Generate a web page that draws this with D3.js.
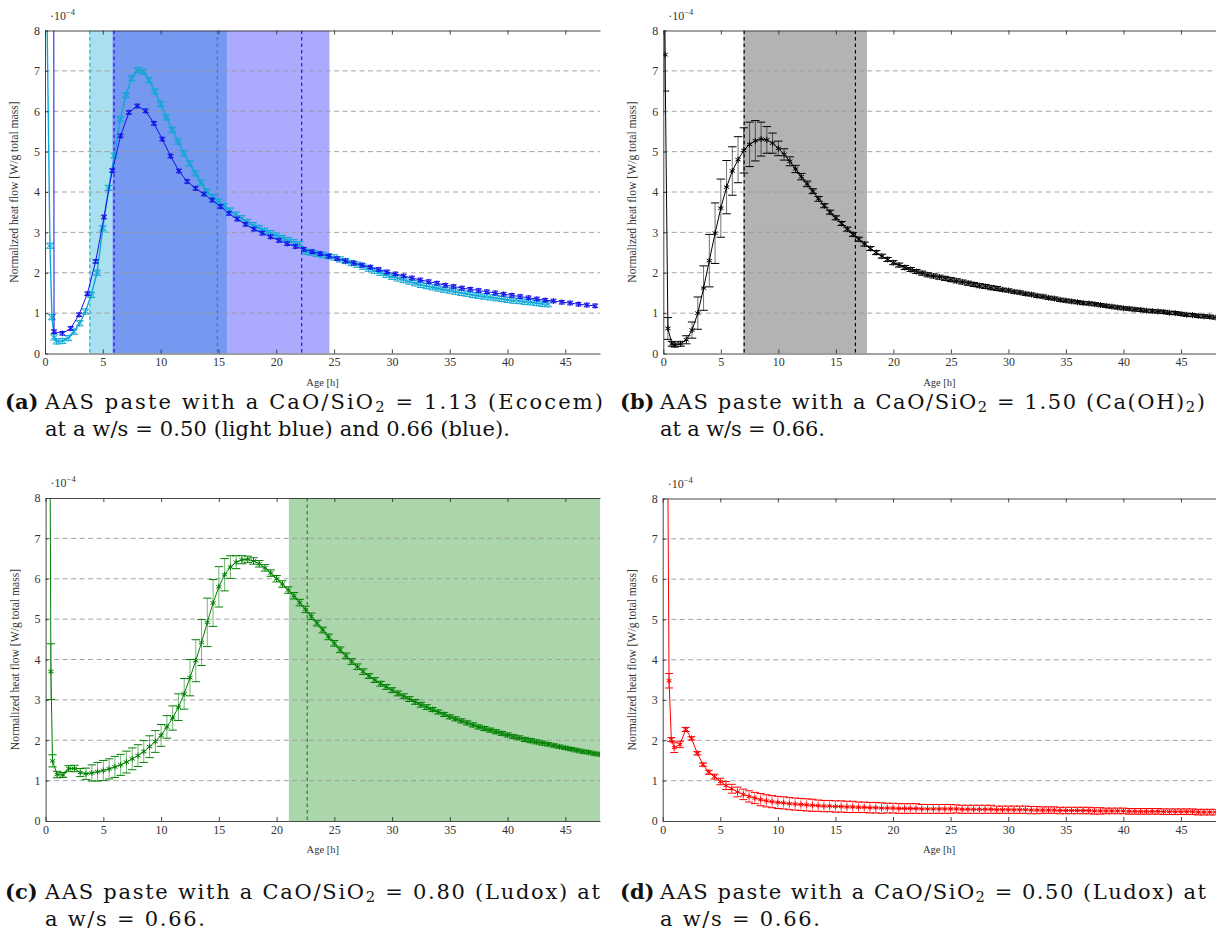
<!DOCTYPE html>
<meta charset="utf-8">
<style>
body { margin: 0; background: #fff; }
svg { display: block; }
text { font-family: "Liberation Serif", "DejaVu Serif", serif; }
text.cap { font-family: "DejaVu Serif", "Liberation Serif", serif; }
</style>
<body>
<svg width="1223" height="939"></svg>

<script src="https://cdn.jsdelivr.net/npm/d3@7/dist/d3.min.js"></script>
<script>

// ---------------- data (heat flow in 1e-4 W/g, age in h) ----------------
var ageStep = 0.5;
var xTicks = [0, 5, 10, 15, 20, 25, 30, 35, 40, 45];
var yTicks = [0, 1, 2, 3, 4, 5, 6, 7, 8];

// (a) Ecocem, w/s = 0.50 (light blue)
var agesA1 = [0.12, 0.43, 0.6, 0.8].concat(d3.range(1, 43.51, ageStep));
var heatA1 = [9.5, 2.67, 0.9, 0.4,
  0.3, 0.31, 0.38, 0.54, 0.75, 1.04, 1.45, 2.0, 3.1, 4.1,
  4.9, 5.8, 6.4, 6.82, 7.02, 6.98, 6.77, 6.49, 6.18, 5.85,
  5.54, 5.25, 4.96, 4.71, 4.46, 4.23, 4.01, 3.88, 3.76, 3.65,
  3.54, 3.44, 3.35, 3.26, 3.18, 3.11, 3.04, 2.98, 2.92, 2.86,
  2.81, 2.76, 2.71, 2.52, 2.5, 2.47, 2.44, 2.41, 2.38, 2.33,
  2.29, 2.24, 2.2, 2.15, 2.1, 2.05, 2.0, 1.95, 1.9, 1.86,
  1.82, 1.78, 1.74, 1.7, 1.67, 1.64, 1.61, 1.58, 1.56, 1.53,
  1.5, 1.48, 1.45, 1.43, 1.41, 1.39, 1.37, 1.35, 1.33, 1.31,
  1.3, 1.28, 1.27, 1.25, 1.23, 1.22];

// (a) Ecocem, w/s = 0.66 (blue)
var agesA2 = [0.76].concat(d3.range(0.78, 47.6, 0.72));
var heatA2 = [9.5,
  0.54, 0.5, 0.62, 0.96, 1.48, 2.28, 3.38, 4.53, 5.39, 5.97,
  6.13, 6.01, 5.7, 5.31, 4.89, 4.52, 4.26, 4.09, 3.95, 3.8,
  3.64, 3.47, 3.33, 3.2, 3.08, 2.98, 2.89, 2.8, 2.72, 2.65,
  2.58, 2.52, 2.47, 2.41, 2.35, 2.29, 2.24, 2.19, 2.14, 2.08,
  2.02, 1.97, 1.92, 1.87, 1.82, 1.78, 1.74, 1.69, 1.66, 1.62,
  1.59, 1.56, 1.53, 1.5, 1.47, 1.44, 1.41, 1.38, 1.35, 1.32,
  1.3, 1.27, 1.25, 1.22, 1.2, 1.18];

// (b) Ca(OH)2, w/s = 0.66
var agesB = [0.05, 0.15, 0.4, 0.75].concat(d3.range(1, 48.01, ageStep));
var heatB = [9.5, 7.4, 0.62, 0.24,
  0.21, 0.24, 0.34, 0.58, 1.0, 1.62, 2.3, 2.98, 3.6, 4.12,
  4.52, 4.8, 5.03, 5.18, 5.27, 5.31, 5.29, 5.21, 5.08, 4.93,
  4.76, 4.57, 4.38, 4.2, 4.02, 3.83, 3.66, 3.5, 3.36, 3.22,
  3.08, 2.95, 2.83, 2.71, 2.6, 2.5, 2.41, 2.33, 2.25, 2.19,
  2.13, 2.08, 2.03, 1.99, 1.95, 1.92, 1.89, 1.86, 1.83, 1.8,
  1.77, 1.74, 1.71, 1.68, 1.66, 1.63, 1.61, 1.58, 1.56, 1.53,
  1.51, 1.48, 1.46, 1.43, 1.41, 1.38, 1.36, 1.33, 1.31, 1.29,
  1.27, 1.25, 1.24, 1.22, 1.2, 1.18, 1.16, 1.14, 1.12, 1.11,
  1.09, 1.08, 1.06, 1.05, 1.04, 1.03, 1.01, 1.0, 0.98, 0.96,
  0.95, 0.93, 0.92, 0.91, 0.89];
var errB = [0, 0.9, 0.27, 0.06,
  0.05, 0.06, 0.1, 0.2, 0.4, 0.55, 0.65, 0.75, 0.72, 0.66,
  0.6, 0.57, 0.56, 0.55, 0.5, 0.42, 0.33, 0.25, 0.18, 0.14,
  0.11, 0.09, 0.08, 0.07, 0.06, 0.06, 0.05, 0.05, 0.05, 0.05,
  0.05, 0.05, 0.05, 0.05, 0.05, 0.05, 0.05, 0.05, 0.05, 0.05,
  0.05, 0.05, 0.05, 0.05, 0.05, 0.05, 0.05, 0.05, 0.05, 0.05,
  0.05, 0.05, 0.05, 0.05, 0.05, 0.05, 0.05, 0.04, 0.04, 0.04,
  0.04, 0.04, 0.04, 0.04, 0.04, 0.04, 0.04, 0.04, 0.04, 0.04,
  0.04, 0.04, 0.04, 0.04, 0.04, 0.04, 0.04, 0.04, 0.04, 0.04,
  0.04, 0.04, 0.04, 0.04, 0.04, 0.04, 0.04, 0.04, 0.04, 0.04,
  0.04, 0.04, 0.04, 0.04, 0.04];

// (c) Ludox, CaO/SiO2 = 0.80
var agesC = [0.38, 0.46, 0.6].concat(d3.range(1, 48.01, ageStep));
var heatC = [9.5, 3.7, 1.49,
  1.15, 1.14, 1.3, 1.3, 1.2, 1.17, 1.19, 1.22, 1.25, 1.29,
  1.34, 1.39, 1.46, 1.54, 1.62, 1.72, 1.84, 1.97, 2.12, 2.33,
  2.55, 2.82, 3.15, 3.55, 3.97, 4.42, 4.92, 5.4, 5.8, 6.1,
  6.29, 6.41, 6.47, 6.48, 6.44, 6.37, 6.27, 6.14, 6.0, 5.87,
  5.72, 5.58, 5.41, 5.24, 5.07, 4.9, 4.73, 4.56, 4.4, 4.24,
  4.09, 3.95, 3.82, 3.7, 3.59, 3.49, 3.4, 3.32, 3.24, 3.16,
  3.09, 3.02, 2.95, 2.88, 2.82, 2.76, 2.7, 2.64, 2.58, 2.53,
  2.48, 2.43, 2.38, 2.33, 2.29, 2.25, 2.21, 2.17, 2.13, 2.09,
  2.06, 2.02, 1.99, 1.96, 1.93, 1.9, 1.87, 1.84, 1.81, 1.78,
  1.75, 1.72, 1.7, 1.67, 1.65];
var errC = [0, 0.69, 0.15,
  0.08, 0.06, 0.07, 0.08, 0.1, 0.14, 0.2, 0.23, 0.25, 0.25,
  0.26, 0.26, 0.27, 0.27, 0.27, 0.27, 0.27, 0.27, 0.27, 0.28,
  0.3, 0.33, 0.38, 0.45, 0.52, 0.57, 0.6, 0.58, 0.5, 0.4,
  0.28, 0.16, 0.1, 0.08, 0.08, 0.08, 0.08, 0.08, 0.08, 0.08,
  0.08, 0.08, 0.08, 0.08, 0.08, 0.07, 0.07, 0.07, 0.07, 0.07,
  0.07, 0.07, 0.07, 0.07, 0.06, 0.06, 0.06, 0.06, 0.06, 0.06,
  0.06, 0.06, 0.06, 0.06, 0.06, 0.05, 0.05, 0.05, 0.05, 0.05,
  0.05, 0.05, 0.05, 0.05, 0.05, 0.05, 0.05, 0.05, 0.05, 0.05,
  0.05, 0.05, 0.05, 0.05, 0.05, 0.04, 0.04, 0.04, 0.04, 0.04,
  0.04, 0.04, 0.04, 0.04, 0.04];

// (d) Ludox, CaO/SiO2 = 0.50
var agesD = [0.43, 0.55, 0.75].concat(d3.range(1, 48.01, ageStep));
var heatD = [9.5, 3.48, 2.02,
  1.82, 1.9, 2.27, 2.05, 1.68, 1.4, 1.21, 1.1, 0.98, 0.88,
  0.8, 0.72, 0.66, 0.61, 0.57, 0.53, 0.5, 0.48, 0.46, 0.45,
  0.43, 0.42, 0.41, 0.4, 0.39, 0.38, 0.37, 0.37, 0.36, 0.36,
  0.35, 0.35, 0.34, 0.34, 0.33, 0.33, 0.32, 0.32, 0.32, 0.31,
  0.31, 0.31, 0.31, 0.3, 0.3, 0.3, 0.3, 0.3, 0.3, 0.3,
  0.29, 0.29, 0.29, 0.29, 0.29, 0.29, 0.28, 0.28, 0.28, 0.28,
  0.28, 0.28, 0.27, 0.27, 0.27, 0.27, 0.27, 0.26, 0.26, 0.26,
  0.26, 0.26, 0.26, 0.25, 0.25, 0.25, 0.25, 0.25, 0.25, 0.24,
  0.24, 0.24, 0.24, 0.24, 0.24, 0.23, 0.23, 0.23, 0.23, 0.23,
  0.23, 0.22, 0.22, 0.22, 0.22];
var errD = [0, 0.18, 0.05,
  0.12, 0.08, 0.05, 0.04, 0.04, 0.04, 0.05, 0.06, 0.08, 0.1,
  0.11, 0.12, 0.13, 0.14, 0.14, 0.15, 0.15, 0.15, 0.15, 0.15,
  0.15, 0.15, 0.15, 0.15, 0.15, 0.14, 0.14, 0.14, 0.14, 0.14,
  0.14, 0.14, 0.13, 0.13, 0.13, 0.13, 0.13, 0.12, 0.12, 0.12,
  0.12, 0.12, 0.12, 0.11, 0.11, 0.11, 0.11, 0.11, 0.11, 0.1,
  0.1, 0.1, 0.1, 0.1, 0.1, 0.1, 0.09, 0.09, 0.09, 0.09,
  0.09, 0.09, 0.09, 0.09, 0.08, 0.08, 0.08, 0.08, 0.08, 0.08,
  0.08, 0.08, 0.08, 0.08, 0.08, 0.07, 0.07, 0.07, 0.07, 0.07,
  0.07, 0.07, 0.07, 0.07, 0.07, 0.07, 0.07, 0.07, 0.07, 0.07,
  0.07, 0.07, 0.07, 0.07, 0.07];

// shaded periods and dashed markers (age in h)
var bandsA = [[3.84, 5.83, "#aadff0"], [5.83, 15.75, "#7598f0"], [15.75, 24.6, "#aaaaff"]];
var linesA = [[3.88, "#19b3dc"], [5.97, "#1a1aee"], [14.9, "#2a7fd8"], [22.2, "#1a1aee"]];
var bandsB = [[6.96, 17.7, "#b3b3b3"]];
var linesB = [[7.03, "#000"], [16.7, "#000"]];
var bandsC = [[21.06, 48.5, "#abd5ab"]];
var linesC = [[22.65, "#1a8a1a"]];

// ---------------- drawing ----------------
var svg = d3.select("svg");

var panels = [
  { id: "a", x: 45, y: 30.5, w: 555, h: 323, bands: bandsA, vlines: linesA,
    series: [
      { ages: agesA1, heat: heatA1, color: "#0fa8d6", r: 3.4, width: 1.4, mark: 2.6, cap: 4 },
      { ages: agesA2, heat: heatA2, color: "#1414e8", r: 2.8, width: 1, mark: 1.8, cap: 3 }
    ] },
  { id: "b", x: 663.3, y: 30.5, w: 552.2, h: 323, bands: bandsB, vlines: linesB,
    series: [ { ages: agesB, heat: heatB, err: errB, color: "#000", r: 3, width: 1, cap: 4.2 } ] },
  { id: "c", x: 45.6, y: 498, w: 554.4, h: 323, bands: bandsC, vlines: linesC,
    series: [ { ages: agesC, heat: heatC, err: errC, color: "#008000", r: 3, width: 1, cap: 4.2 } ] },
  { id: "d", x: 662.7, y: 498.5, w: 552.8, h: 322.5, bands: [], vlines: [],
    series: [ { ages: agesD, heat: heatD, err: errD, color: "#ff0000", r: 2.8, width: 1, cap: 4 } ] }
];

function starPath(r) {
  var c = r * 0.87, s = r * 0.5;
  return "M0," + (-r) + "L0," + r +
         "M" + (-c) + "," + (-s) + "L" + c + "," + s +
         "M" + (-c) + "," + s + "L" + c + "," + (-s);
}

// star with small horizontal caps (the tiny error bars of panel a)
function cappedPath(r, m, cap) {
  return starPath(r) + "M" + (-cap) + "," + (-m) + "L" + cap + "," + (-m) +
         "M" + (-cap) + "," + m + "L" + cap + "," + m;
}

function drawSeries(plot, x, y, s) {
  var pts = s.ages.map(function(a, i) {
    return { a: a, v: s.heat[i], e: s.err ? s.err[i] : 0 };
  });

  plot.append("path")
      .datum(pts)
      .attr("fill", "none")
      .attr("stroke", s.color)
      .attr("stroke-width", s.width)
      .attr("d", d3.line().x(function(d) { return x(d.a); }).y(function(d) { return y(d.v); }));

  if (s.err) {
    var bars = plot.append("g").selectAll("g")
      .data(pts.filter(function(d) { return d.e > 0; }))
      .enter().append("g")
        .attr("transform", function(d) { return "translate(" + x(d.a) + ",0)"; });
    bars.append("line")
        .attr("y1", function(d) { return y(d.v - d.e); })
        .attr("y2", function(d) { return y(d.v + d.e); })
        .attr("stroke", s.color).attr("stroke-opacity", 0.55).attr("stroke-width", 1);
    [1, -1].forEach(function(sign) {
      bars.append("line")
          .attr("x1", -s.cap).attr("x2", s.cap)
          .attr("y1", function(d) { return y(d.v + sign * d.e); })
          .attr("y2", function(d) { return y(d.v + sign * d.e); })
          .attr("stroke", s.color).attr("stroke-width", 1);
    });
  }

  plot.append("g").selectAll("path")
    .data(pts)
    .enter().append("path")
      .attr("transform", function(d) { return "translate(" + x(d.a) + "," + y(d.v) + ")"; })
      .attr("d", s.mark ? cappedPath(s.r, s.mark, s.cap) : starPath(s.r))
      .attr("stroke", s.color)
      .attr("stroke-width", 1)
      .attr("fill", "none");
}

function styleAxis(sel) {
  sel.attr("font-family", null).attr("font-size", null);
  sel.selectAll("path, line").attr("stroke", "#333").attr("stroke-width", 0.9);
  sel.selectAll("text").attr("fill", "#333").style("font-size", "12px");
}

panels.forEach(function(p) {
  var g = svg.append("g").attr("transform", "translate(" + p.x + "," + p.y + ")");
  var x = d3.scaleLinear().domain([0, 48]).range([0, p.w]);
  var y = d3.scaleLinear().domain([0, 8]).range([p.h, 0]);

  g.append("clipPath").attr("id", "clip-" + p.id)
    .append("rect").attr("width", p.w).attr("height", p.h);
  var plot = g.append("g").attr("clip-path", "url(#clip-" + p.id + ")");

  plot.selectAll("rect.band")
    .data(p.bands)
    .enter().append("rect")
      .attr("class", "band")
      .attr("x", function(d) { return x(d[0]); })
      .attr("width", function(d) { return x(d[1]) - x(d[0]); })
      .attr("y", 0).attr("height", p.h)
      .attr("fill", function(d) { return d[2]; });

  // horizontal dashed grid
  plot.selectAll("line.grid")
    .data(yTicks.filter(function(v) { return v > 0 && v < 8; }))
    .enter().append("line")
      .attr("class", "grid")
      .attr("x1", 0).attr("x2", p.w)
      .attr("y1", y).attr("y2", y)
      .attr("stroke", "#9a9a9a")
      .attr("stroke-width", 0.9)
      .attr("stroke-dasharray", "5,3.5");

  plot.selectAll("line.vmark")
    .data(p.vlines)
    .enter().append("line")
      .attr("class", "vmark")
      .attr("x1", function(d) { return x(d[0]); })
      .attr("x2", function(d) { return x(d[0]); })
      .attr("y1", 0).attr("y2", p.h)
      .attr("stroke", function(d) { return d[1]; })
      .attr("stroke-width", 1.2)
      .attr("stroke-dasharray", "3.5,3");

  p.series.forEach(function(s) { drawSeries(plot, x, y, s); });

  // axes
  g.append("g")
      .attr("transform", "translate(0," + p.h + ")")
      .call(d3.axisBottom(x).tickValues(xTicks).tickSizeInner(-4).tickSizeOuter(0).tickPadding(4))
      .call(styleAxis);
  g.append("g")
      .call(d3.axisTop(x).tickValues(xTicks).tickSizeInner(-4).tickSizeOuter(0).tickFormat(""))
      .call(styleAxis);
  g.append("g")
      .call(d3.axisLeft(y).tickValues(yTicks).tickSizeInner(-3).tickSizeOuter(0).tickPadding(5))
      .call(styleAxis);

  g.append("text")
      .attr("x", p.w / 2).attr("y", p.h + 32)
      .attr("text-anchor", "middle")
      .attr("font-size", 10.5).attr("fill", "#333")
      .text("Age [h]");

  g.append("text")
      .attr("transform", "translate(-27," + (p.h / 2) + ") rotate(-90)")
      .attr("text-anchor", "middle")
      .attr("font-size", 11.6).attr("fill", "#333")
      .text("Normalized heat flow [W/g total mass]");

  var ex = g.append("text").attr("x", 5).attr("y", -11).attr("font-size", 12).attr("fill", "#333");
  ex.append("tspan").text("\u00b710");
  ex.append("tspan").attr("font-size", 8.5).attr("dy", -5).text("\u22124");
});

// ---------------- captions ----------------
var captions = [
  { x: 5,   y: 409, tag: "(a)", w1: 558, w2: 465,
    l1: ["AAS paste with a CaO/SiO", "2", " = 1.13 (Ecocem)"],
    l2: "at a w/s = 0.50 (light blue) and 0.66 (blue)." },
  { x: 620, y: 409, tag: "(b)", w1: 545, w2: 165,
    l1: ["AAS paste with a CaO/SiO", "2", " = 1.50 (Ca(OH)", "2", ")"],
    l2: "at a w/s = 0.66." },
  { x: 5,   y: 899, tag: "(c)", w1: 555, w2: 160,
    l1: ["AAS paste with a CaO/SiO", "2", " = 0.80 (Ludox) at"],
    l2: "a w/s = 0.66." },
  { x: 620, y: 899, tag: "(d)", w1: 546, w2: 160,
    l1: ["AAS paste with a CaO/SiO", "2", " = 0.50 (Ludox) at"],
    l2: "a w/s = 0.66." }
];

var indent = 40;

// pick a caption font size so that the first line of (a) keeps its width
var probe = svg.append("text").attr("class", "cap").attr("font-size", 20)
  .text("AAS paste with a CaO/SiO2 = 1.13 (Ecocem)");
var fs = Math.min(21, 20 * 552 / probe.node().getComputedTextLength());
probe.remove();

captions.forEach(function(c) {
  svg.append("text")
      .attr("class", "cap")
      .attr("x", c.x).attr("y", c.y)
      .attr("font-size", fs).attr("font-weight", "bold").attr("fill", "#111")
      .text(c.tag);
  var t = svg.append("text")
      .attr("class", "cap")
      .attr("x", c.x + indent).attr("y", c.y)
      .attr("font-size", fs).attr("fill", "#111")
      .attr("textLength", c.w1).attr("lengthAdjust", "spacing");
  c.l1.forEach(function(part, i) {
    var sub = (i % 2 === 1);
    t.append("tspan")
        .attr("font-size", sub ? fs * 0.7 : fs)
        .attr("dy", i === 0 ? 0 : (sub ? fs * 0.16 : -fs * 0.16))
        .text(part);
  });
  svg.append("text")
      .attr("class", "cap")
      .attr("x", c.x + indent).attr("y", c.y + 26.5)
      .attr("font-size", fs).attr("fill", "#111")
      .attr("textLength", c.w2).attr("lengthAdjust", "spacing")
      .text(c.l2);
});

</script>
</body>
